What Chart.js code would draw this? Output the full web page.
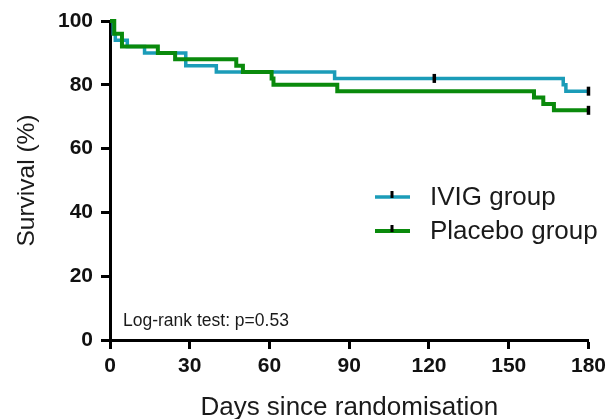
<!DOCTYPE html>
<html>
<head>
<meta charset="utf-8">
<script src="https://cdn.jsdelivr.net/npm/chart.js@4/dist/chart.umd.min.js"></script>
<style>
  html, body { margin: 0; padding: 0; background: #ffffff; }
  canvas { display: block; }
</style>
</head>
<body>
<canvas id="km" width="611" height="419"></canvas>
<script>
// Kaplan–Meier survival estimates: time of each step (days) and survival (%) after it
const ivigDays = [0, 1.2, 2, 6.5, 13, 28.5, 40, 84.5, 170.5, 171.5, 180];
const ivigSurvival = [100, 96, 94, 92, 90, 86, 84, 82, 80, 78, 78];
const placeboDays = [0, 1.6, 4.5, 18, 24.5, 47.5, 50, 60.8, 61.5, 85.5, 159.5, 163, 167, 180];
const placeboSurvival = [100, 96, 92, 90, 88, 86, 84, 82, 80, 78, 76, 74, 72, 72];

// Censored observations
const ivigCensorDays = [122, 180];
const ivigCensorSurvival = [82, 78];
const placeboCensorDays = [180];
const placeboCensorSurvival = [72];

const xTicks = [0, 30, 60, 90, 120, 150, 180];
const yTicks = [0, 20, 40, 60, 80, 100];
const seriesNames = ['IVIG group', 'Placebo group'];
const seriesColors = ['#1b9cb8', '#0a8a0c'];
const testLabel = 'Log-rank test: p=0.53';

const FONT = "'Liberation Sans', Arial, sans-serif";

function toPoints(xs, ys) {
  return xs.map((x, i) => ({ x: x, y: ys[i] }));
}

// Legend entries and the test annotation, drawn inside the plot area
const annotations = {
  id: 'annotations',
  afterDraw(chart) {
    const ctx = chart.ctx;
    const entries = [
      { y: 197, color: seriesColors[0], width: 3.5, name: seriesNames[0] },
      { y: 231, color: seriesColors[1], width: 4, name: seriesNames[1] }
    ];
    ctx.save();
    entries.forEach(e => {
      ctx.strokeStyle = e.color;
      ctx.lineWidth = e.width;
      ctx.beginPath();
      ctx.moveTo(375, e.y);
      ctx.lineTo(410, e.y);
      ctx.stroke();
      ctx.fillStyle = '#000';
      ctx.fillRect(390.5, e.y - 6, 3, 7);
      ctx.fillStyle = '#1a1a1a';
      ctx.font = '26px ' + FONT;
      ctx.textBaseline = 'middle';
      ctx.textAlign = 'left';
      ctx.fillText(e.name, 430, e.y + 1);
    });
    ctx.font = '17.5px ' + FONT;
    ctx.fillStyle = '#1a1a1a';
    ctx.textBaseline = 'middle';
    ctx.fillText(testLabel, 123, 321);
    ctx.restore();
  }
};

new Chart(document.getElementById('km'), {
  type: 'scatter',
  data: {
    datasets: [
      {
        label: seriesNames[0],
        data: toPoints(ivigDays, ivigSurvival),
        showLine: true,
        stepped: 'before',
        borderColor: seriesColors[0],
        borderWidth: 3.5,
        pointRadius: 0,
        fill: false,
        clip: false,
        order: 2
      },
      {
        label: seriesNames[1],
        data: toPoints(placeboDays, placeboSurvival),
        showLine: true,
        stepped: 'before',
        borderColor: seriesColors[1],
        borderWidth: 4,
        pointRadius: 0,
        fill: false,
        clip: false,
        order: 1
      },
      {
        label: 'IVIG censored',
        data: toPoints(ivigCensorDays, ivigCensorSurvival),
        showLine: false,
        pointStyle: 'line',
        rotation: 90,
        pointRadius: 4.5,
        borderColor: '#000',
        pointBorderWidth: 3.5,
        clip: false,
        order: 0
      },
      {
        label: 'Placebo censored',
        data: toPoints(placeboCensorDays, placeboCensorSurvival),
        showLine: false,
        pointStyle: 'line',
        rotation: 90,
        pointRadius: 4.5,
        borderColor: '#000',
        pointBorderWidth: 3.5,
        clip: false,
        order: 0
      }
    ]
  },
  options: {
    responsive: false,
    animation: false,
    layout: { padding: { left: 0, top: 21, right: 21, bottom: 0 } },
    plugins: {
      legend: { display: false },
      tooltip: { enabled: false }
    },
    scales: {
      x: {
        type: 'linear',
        min: 0,
        max: 180,
        afterBuildTicks: s => { s.ticks = xTicks.map(v => ({ value: v })); },
        afterFit: s => { s.height = 79; },
        grid: {
          drawOnChartArea: false,
          drawTicks: true,
          tickLength: 9,
          tickWidth: 3,
          tickColor: '#000'
        },
        border: { display: true, color: '#000', width: 3 },
        ticks: {
          color: '#111',
          padding: 5,
          maxRotation: 0,
          font: { family: FONT, size: 21, weight: 'bold' }
        },
        title: {
          display: true,
          text: 'Days since randomisation',
          color: '#1a1a1a',
          padding: 0,
          font: { family: FONT, size: 26, lineHeight: 0.85 }
        }
      },
      y: {
        type: 'linear',
        min: 0,
        max: 100,
        afterBuildTicks: s => { s.ticks = yTicks.map(v => ({ value: v })); },
        afterFit: s => { s.width = 110; },
        grid: {
          drawOnChartArea: false,
          drawTicks: true,
          tickLength: 9,
          tickWidth: 3,
          tickColor: '#000'
        },
        border: { display: true, color: '#000', width: 3 },
        ticks: {
          color: '#111',
          padding: 8,
          font: { family: FONT, size: 21, weight: 'bold' }
        },
        title: {
          display: true,
          text: 'Survival (%)',
          color: '#1a1a1a',
          padding: { top: 13, bottom: 0 },
          font: { family: FONT, size: 24.5 }
        }
      }
    }
  },
  plugins: [annotations]
});
</script>
</body>
</html>
